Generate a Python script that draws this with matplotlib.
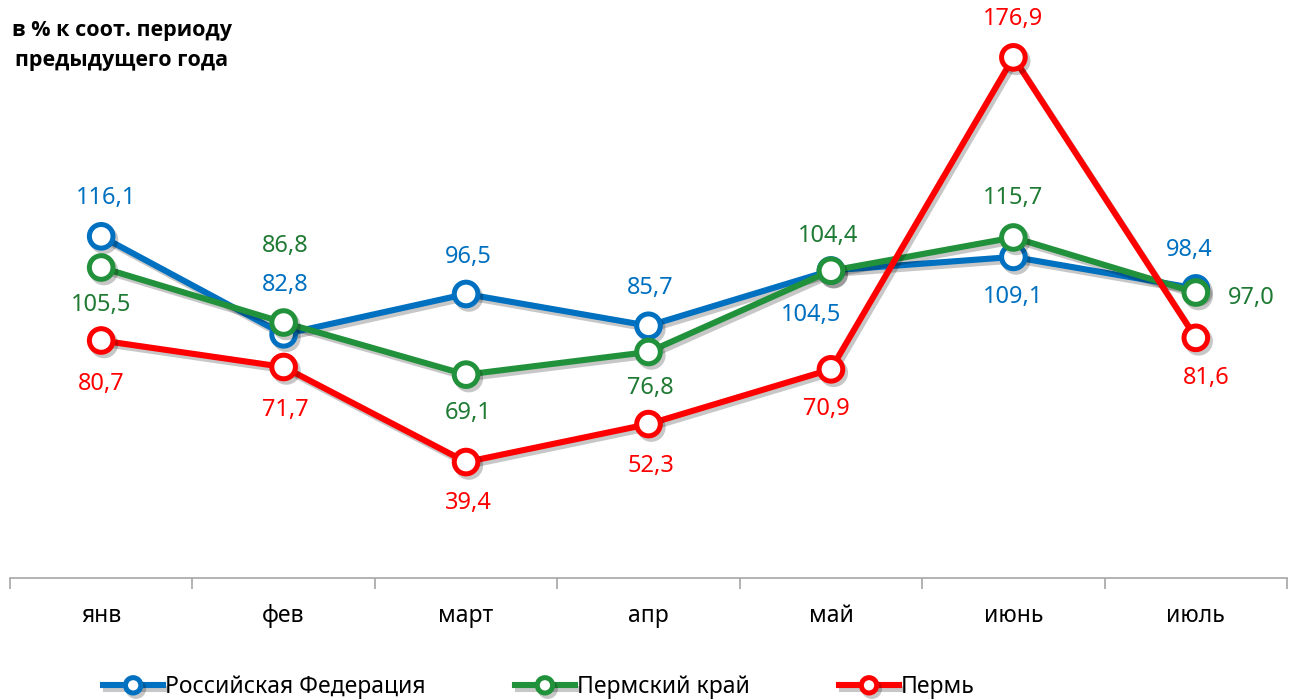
import matplotlib
matplotlib.use("Agg")
import matplotlib.pyplot as plt
import matplotlib.patheffects as pe
import numpy as np

plt.rcParams['font.family'] = ['Noto Sans', 'DejaVu Sans']

months = ['янв', 'фев', 'март', 'апр', 'май', 'июнь', 'июль']
rf = [116.1, 82.8, 96.5, 85.7, 104.5, 109.1, 98.4]
perm_krai = [105.5, 86.8, 69.1, 76.8, 104.4, 115.7, 97.0]
perm = [80.7, 71.7, 39.4, 52.3, 70.9, 176.9, 81.6]

names = ['Российская Федерация', 'Пермский край', 'Пермь']
line_colors = ['#0070C0', '#22913B', '#FF0000']
label_colors = ['#0070C0', '#1F7A34', '#FF0000']

# label offsets in pixels (dx, dy), dy positive = up
offs_rf = [(5, 38), (2, 49), (2, 37), (2, 38), (-20, -45), (0, -40), (-7, 38)]
offs_krai = [(0, -38), (2, 77), (2, -38), (2, -36), (-3, 35), (0, 39), (55, -5)]
offs_perm = [(0, -44), (2, -43), (2, -41), (2, -42), (-5, -40), (0, 38), (10, -40)]

fig = plt.figure(figsize=(12.93, 6.99), dpi=100)
ax = fig.add_axes([0.0077, 0.1731, 0.9877, 0.80])

x = np.arange(len(months))
shadow = [pe.SimpleLineShadow(offset=(2, -2.5), alpha=0.22, shadow_color='k'), pe.Normal()]

for vals, offs, name, lc, tc in zip([rf, perm_krai, perm], [offs_rf, offs_krai, offs_perm],
                                    names, line_colors, label_colors):
    ax.plot(x, vals, '-o', color=lc, lw=4.4, ms=17, mfc='white', mec=lc, mew=3.6,
            label=name, path_effects=shadow)
    for xi, v, (dx, dy) in zip(x, vals, offs):
        ax.annotate(f'{v:.1f}'.replace('.', ','), (xi, v), xytext=(dx, dy),
                    textcoords='offset pixels', ha='center', va='center',
                    fontsize=17, color=tc)

ax.set_xlim(-0.5, len(months) - 0.5)
ax.set_ylim(0, 190)
for s in ['top', 'right', 'left']:
    ax.spines[s].set_visible(False)
ax.spines['bottom'].set_color('#A6A6A6')
ax.spines['bottom'].set_linewidth(1.2)
ax.set_yticks([])
ax.set_xticks(x)
ax.set_xticklabels(months, fontsize=16.5)
ax.tick_params(axis='x', which='major', length=0, pad=19)
ax.set_xticks(np.arange(-0.5, len(months)), minor=True)
ax.tick_params(axis='x', which='minor', length=8, color='#A6A6A6', width=1.2)

fig.text(0.094, 0.972, 'в % к соот. периоду\nпредыдущего года', ha='center', va='top',
         fontsize=15.5, fontweight='bold', family=['Open Sans', 'DejaVu Sans'], linespacing=1.6)

fig.legend(loc='lower left', bbox_to_anchor=(0.064, -0.03), ncol=3, frameon=False,
           fontsize=16.5, handlelength=2.6, handletextpad=0.1, columnspacing=3.9,
           markerscale=0.65)

fig.savefig('out.png', dpi=100)
